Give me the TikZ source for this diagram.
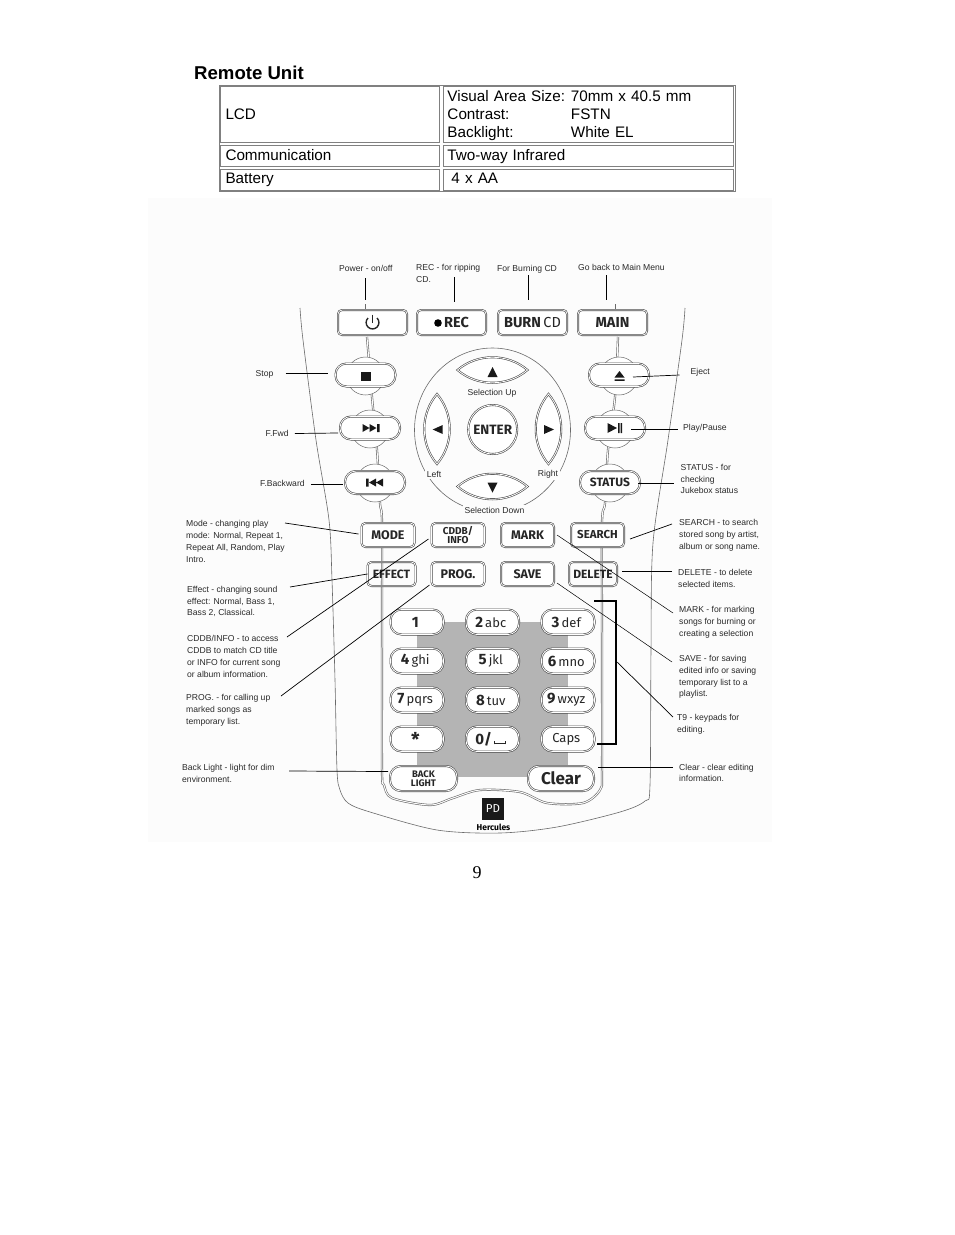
\documentclass[tikz,border=0pt]{standalone}
\usepackage{fontspec}
\setmainfont{Liberation Sans}
\newfontfamily\keyfont{Fira Sans}
\newfontfamily\pagefont{Liberation Serif}
\usetikzlibrary{matrix}
\definecolor{photobg}{HTML}{FCFCFC}
\definecolor{padgray}{HTML}{B4B4B4}
\definecolor{keyline}{HTML}{4A4A4A}
\definecolor{bodyline}{HTML}{6A6A6A}
\definecolor{tablegray}{HTML}{808080}
\definecolor{notegray}{HTML}{2A2A2A}
\def\Dg#1{{\fontsize{15}{15}\selectfont\bfseries #1}\,}
\def\LcdCell{\parbox{286pt}{\vspace*{4pt}\fontsize{15.25}{18}\selectfont
    \makebox[123.5pt][l]{Visual Area Size:}70mm x 40.5 mm\\
    \makebox[123.5pt][l]{Contrast:}FSTN\\
    \makebox[123.5pt][l]{Backlight:}White EL}}
\tikzset{
    basekey/.style={draw=keyline,line width=.6pt,double=white,double distance=.8pt,fill=white,inner sep=0pt,outer sep=0pt,align=center,text=black!85},
    topkey/.style={basekey,rounded corners=4pt,minimum width=69pt,minimum height=25pt,font={\keyfont\bfseries\fontsize{14.5}{14.5}\selectfont}},
    midkey/.style={basekey,rounded corners=4pt,minimum width=53pt,minimum height=24pt,font={\keyfont\bfseries\fontsize{12.5}{10}\selectfont}},
    sidekey/.style={basekey,rounded corners=11pt,minimum width=60pt,minimum height=23pt,font={\keyfont\bfseries\fontsize{12}{12}\selectfont}},
    pillkey/.style={basekey,rounded corners=11pt,minimum height=25pt,font={\keyfont\fontsize{13}{13}\selectfont}},
    bulge/.style={draw=bodyline,line width=.5pt,fill=white},
    bodyedge/.style={draw=bodyline,line width=.6pt},
    leader/.style={draw=black,line width=.7pt},
    note/.style={anchor=west,inner sep=0pt,align=left,text=notegray,font={\fontsize{8.6}{11.8}\selectfont}},
    lenskey/.pic={\draw[draw=keyline,line width=.6pt,double=white,double distance=.8pt,fill=white] (-35,0) .. controls (-15,-17) and (15,-17) .. (35,0) .. controls (15,17) and (-15,17) .. (-35,0) -- cycle;}
}
\def\SpecTable{
    \matrix (spec) at (477,138)
    [matrix of nodes,
    nodes in empty cells,
    ampersand replacement=\&,
    column sep={3pt},
    row sep={2pt},
    inner sep=0pt,
    nodes={draw=tablegray,line width=1pt,outer sep=0pt,anchor=center,align=left,inner sep=0pt,font={\fontsize{15.25}{18}\selectfont}} ]
    {
     |[minimum height=56pt,text width=219pt]| \hspace*{5pt}LCD \& |[minimum height=56pt,text width=290pt]| \hspace*{4pt}\LcdCell\\
     |[minimum height=21pt,text width=219pt,text height=12pt,text depth=2pt]| \hspace*{5pt}Communication \& |[minimum height=21pt,text width=290pt,text height=12pt,text depth=2pt]| \hspace*{4pt}Two-way Infrared \\
     |[minimum height=21pt,text width=219pt,text height=11pt,text depth=3pt]| \hspace*{5pt}Battery \& |[minimum height=21pt,text width=290pt,text height=11pt,text depth=3pt]| \hspace*{8pt}4 x AA \\
};
}
\def\KeyPad{
    \matrix (keypad) at (492.5,680.5)
    [matrix of nodes,
    nodes in empty cells,
    ampersand replacement=\&,
    column sep={20.5pt},
    row sep={12pt},
    inner sep=0pt,
    nodes={pillkey,anchor=center,minimum width=53pt} ]
    {
     \Dg{1}\! \& \Dg{2}abc \& \Dg{3}def \\
     \Dg{4}ghi \& \Dg{5}jkl \& \Dg{6}mno \\
     \Dg{7}pqrs \& \Dg{8}tuv \& \Dg{9}wxyz \\
     {\fontsize{19}{15}\selectfont\bfseries *} \& \Dg{0/}\rule{1pt}{3pt}\rule{10pt}{.8pt}\rule{1pt}{3pt} \& Caps \\
};
}
\begin{document}
\begin{tikzpicture}[x=1pt,y=-1pt]
    \useasboundingbox (0,0) rectangle (954,1235);
    \fill[photobg] (148,198) rectangle (772,842);
    \node[anchor=west,inner sep=0pt,font={\bfseries\fontsize{18.6}{18}\selectfont}] (title) at (194,72.5) {Remote Unit};
    \draw[tablegray,line width=1pt] (219,85) rectangle (735,191);
    \SpecTable

    \fill[padgray] (417,622) rectangle (568,777);
    \draw[bodyedge] plot[smooth] coordinates {(300,308) (303,340) (316,440) (329,520) (332,580) (335,680) (337,770) (340,790) (348,803) (370,812) (437,830) (500,833) (557,827) (620,812) (645,801) (650,785) (651,650) (653,543) (668,440) (682,340) (685,308)};
    \draw[bodyedge,double=photobg,double distance=1pt] plot[smooth] coordinates {(367,337) (372,397) (377,450) (380,503) (382,523) (382,640) (382,770) (384,785) (392,798) (430,805) (453,798) (480,790) (520,792) (547,803) (583,803) (600,790) (602,770) (602,640) (602,523) (605,503) (608,450) (615,397) (618,337)};
    \draw[bodyedge] (365,304) -- (365,310);
    \draw[bodyedge] (615,304) -- (615,310);

    \foreach \bx/\by/\bname in {365.5/376/stop,370/429/ffwd,375/483/fback,619/376/eject,615/429/play,610/483/status} {
        \node[bulge,circle,minimum size=38pt,inner sep=0pt] (\bname bulge) at (\bx,\by) {};
    }
    \node[topkey] (powerkey) at (372.5,322.5) {};
    \node[topkey] (reckey) at (451.5,322.5) {\hspace*{10pt}REC};
    \node[topkey] (burnkey) at (532.5,322.5) {BURN\,{\mdseries CD}};
    \node[topkey] (mainkey) at (612.5,322.5) {MAIN};
    \node[sidekey] (stopkey) at (365.5,375) {};
    \node[sidekey] (ffwdkey) at (370,428) {};
    \node[sidekey] (fbackkey) at (375,482.5) {};
    \node[sidekey] (ejectkey) at (619,375) {};
    \node[sidekey] (playkey) at (615,428) {};
    \node[sidekey] (statuskey) at (610,482.5) {STATUS};
    \node[midkey] (modekey) at (388,535) {MODE};
    \node[midkey,font={\keyfont\bfseries\fontsize{10}{8.5}\selectfont}] (cddbkey) at (458,535) {CDDB/\\INFO};
    \node[midkey] (markkey) at (527.5,535) {MARK};
    \node[midkey,font={\keyfont\bfseries\fontsize{11.5}{10}\selectfont}] (searchkey) at (597.5,535) {SEARCH};
    \node[midkey,fill=none,minimum width=48pt,font={\keyfont\bfseries\fontsize{12}{10}\selectfont}] (effectkey) at (391.5,574) {EFFECT};
    \node[midkey] (progkey) at (458,574) {PROG.};
    \node[midkey] (savekey) at (527.5,574) {SAVE};
    \node[midkey,fill=none,minimum width=48pt,font={\keyfont\bfseries\fontsize{12}{10}\selectfont}] (deletekey) at (593,574) {DELETE};
    \KeyPad
    \node[pillkey,minimum width=67pt,font={\keyfont\bfseries\fontsize{9.5}{8.5}\selectfont}] (backkey) at (423.5,778.5) {BACK\\LIGHT};
    \node[pillkey,minimum width=66pt,font={\keyfont\bfseries\fontsize{17}{17}\selectfont}] (clearkey) at (561,778.5) {Clear};

    \draw[black!85,line width=1.4pt] ([shift={(-4.5,-4.5)}]powerkey.center) arc[start angle=-135,end angle=-405,radius=6.4];
    \draw[black!85,line width=1.4pt] ([shift={(0,-8)}]powerkey.center) -- (powerkey.center);
    \fill[black] (438,323) circle[radius=3.8];
    \fill[black!90] (361,371.5) rectangle (370.5,381);
    \fill[black!90,shift={(ffwdkey.center)}] (-7.5,-4) -- (-0.5,0) -- (-7.5,4) -- cycle (-0.5,-4) -- (6.5,0) -- (-0.5,4) -- cycle (7,-4) rectangle (9.5,4);
    \fill[black!90,shift={(fbackkey.center)}] (-9,-4) rectangle (-6.5,4) (-6,0) -- (1,-4) -- (1,4) -- cycle (1,0) -- (8,-4) -- (8,4) -- cycle;
    \fill[black!90] (619.5,371) -- (624.5,377.5) -- (614.5,377.5) -- cycle (614.5,379.3) rectangle (624.5,380.8);
    \fill[black!90,shift={(playkey.center)}] (-7.5,-5) -- (2,0) -- (-7.5,5) -- cycle (3,-5) rectangle (4.5,5) (5.5,-5) rectangle (7,5);

    \draw[bodyedge] (492.5,430) ellipse[x radius=78,y radius=82];
    \path (492.5,370) pic {lenskey};
    \path (492.5,486.5) pic {lenskey};
    \path (437,429) pic[rotate=90] {lenskey};
    \path (548.5,429) pic[rotate=90] {lenskey};
    \fill[black!90] (492.5,367) -- (497.5,377) -- (487.5,377) -- cycle;
    \fill[black!90] (492.5,492.7) -- (497.5,482.7) -- (487.5,482.7) -- cycle;
    \fill[black!90] (432.7,429.5) -- (442.7,425) -- (442.7,434) -- cycle;
    \fill[black!90] (554,429.5) -- (544,425) -- (544,434) -- cycle;
    \node[basekey,circle,minimum size=49pt,font={\keyfont\bfseries\fontsize{13.5}{13.5}\selectfont}] (enterkey) at (492.7,429.5) {ENTER};
    \node[note,anchor=center,fill=photobg,inner xsep=2pt,inner ysep=2pt] (seldownnote) at (494.5,510) {Selection Down};
    \node[note,anchor=center] (selupnote) at (492,393) {Selection Up};
    \node[note,anchor=center,fill=photobg,inner sep=1.5pt] (leftnote) at (434,474) {Left};
    \node[note,anchor=center,fill=photobg,inner sep=1.5pt] (rightnote) at (548,474) {Right};

    \fill[black!90] (482,798) rectangle (504,820);
    \node[inner sep=0pt,text=white,font={\keyfont\fontsize{11.5}{11.5}\selectfont}] (pdlogo) at (493,809) {PD};
    \node[inner sep=0pt,font={\keyfont\bfseries\fontsize{8.5}{8.5}\selectfont}] (hercules) at (493.5,827) {Hercules};

    \node[note] (powernote) at (339,268) {Power - on/off};
    \node[note] (recnote) at (416,273.5) {REC - for ripping\\CD.};
    \node[note] (burnnote) at (497,269) {For Burning CD};
    \node[note] (mainnote) at (578,267) {Go back to Main Menu};
    \node[note] (stopnote) at (255.5,374) {Stop};
    \node[note] (ffwdnote) at (265.5,433.5) {F.Fwd};
    \node[note] (fbacknote) at (260,483) {F.Backward};
    \node[note] (ejectnote) at (690.5,372) {Eject};
    \node[note] (playnote) at (683,428) {Play/Pause};
    \node[note] (statusnote) at (680.5,479) {STATUS - for\\checking\\Jukebox status};
    \node[note] (modenote) at (186,541.5) {Mode - changing play\\mode: Normal, Repeat 1,\\Repeat All, Random, Play\\Intro.};
    \node[note] (effectnote) at (187,601.5) {Effect - changing sound\\effect: Normal, Bass 1,\\Bass 2, Classical.};
    \node[note] (cddbnote) at (187,656.5) {CDDB/INFO - to access\\CDDB to match CD title\\or INFO for current song\\or album information.};
    \node[note] (prognote) at (186,710) {PROG. - for calling up\\marked songs as\\temporary list.};
    \node[note] (backnote) at (182,773.5) {Back Light - light for dim\\environment.};
    \node[note] (searchnote) at (679,535) {SEARCH - to search\\stored song by artist,\\album or song name.};
    \node[note] (deletenote) at (678,578.5) {DELETE - to delete\\selected items.};
    \node[note] (marknote) at (679,622.5) {MARK - for marking\\songs for burning or\\creating a selection};
    \node[note] (savenote) at (679,677) {SAVE - for saving\\edited info or saving\\temporary list to a\\playlist.};
    \node[note] (tninenote) at (677,724) {T9 - keypads for\\editing.};
    \node[note] (clearnote) at (679,773) {Clear - clear editing\\information.};

    \coordinate (powerend) at (365,278);
    \coordinate (recend) at (454.5,277);
    \coordinate (burnend) at (528.5,275);
    \coordinate (mainend) at (606.5,275);
    \draw[leader] (powerend) -- ([yshift=10pt]powerend |- powerkey.north);
    \draw[leader] (recend) -- ([yshift=8pt]recend |- reckey.north);
    \draw[leader] (burnend) -- ([yshift=10pt]burnend |- burnkey.north);
    \draw[leader] (mainend) -- ([yshift=10pt]mainend |- mainkey.north);
    \draw[leader] ([xshift=12pt,yshift=1pt]stopnote.east) -- ([yshift=2pt,xshift=-8pt]stopkey.west);
    \draw[leader] ([xshift=6pt]ffwdnote.east) -- ([yshift=-5pt,xshift=-2pt]ffwdkey.west);
    \draw[leader] ([xshift=6pt,yshift=-1pt]fbacknote.east) -- ([yshift=-1.5pt,xshift=-2pt]fbackkey.west);
    \draw[leader] ([xshift=14pt,yshift=-2pt]ejectkey.center) -- ([xshift=-11pt,yshift=-3pt]ejectnote.west);
    \draw[leader] ([xshift=16pt,yshift=-1pt]playkey.center) -- ([xshift=-5pt,yshift=-1pt]playnote.west);
    \draw[leader] ([xshift=-2pt,yshift=-.5pt]statuskey.east) -- ([xshift=-7pt,yshift=-4pt]statusnote.west);
    \coordinate (modeend) at (285,523);
    \coordinate (effectend) at (290,587);
    \coordinate (cddbend) at (287,637);
    \coordinate (progend) at (281,696);
    \coordinate (backend) at (289,771);
    \coordinate (searchend) at (672,524);
    \coordinate (deleteend) at (672,571);
    \coordinate (markend) at (673,613);
    \coordinate (saveend) at (672,662);
    \coordinate (tnineend) at (673,717);
    \coordinate (clearend) at (673,767);
    \coordinate (markstart) at (557,535);
    \coordinate (savestart) at (557,583);
    \coordinate (tninestart) at (617,662);
    \coordinate (clearstart) at (598,767);
    \draw[leader] (modeend) -- ([xshift=-3pt,yshift=1pt]modekey.west);
    \draw[leader] (effectend) -- ([yshift=0pt]effectkey.west);
    \draw[leader] (cddbend) -- ([xshift=-3pt,yshift=-4pt]cddbkey.west);
    \draw[leader] (progend) -- ([xshift=-2pt,yshift=-11pt]progkey.west);
    \draw[leader] (backend) -- ([xshift=-2pt,yshift=7pt]backkey.west);
    \draw[leader] ([xshift=6pt,yshift=-4pt]searchkey.east) -- (searchend);
    \draw[leader] ([xshift=5pt,yshift=3pt]deletekey.east) -- (deleteend);
    \draw[leader,line width=.5pt] (markstart) -- (markend);
    \draw[leader,line width=.5pt] (savestart) -- (saveend);
    \draw[leader] (tninestart) -- (tnineend);
    \draw[leader,line width=.5pt] (clearstart) -- (clearend);
    \draw[black,line width=1.3pt] (594,601) -- (616,601) -- (616,744) -- (597,744);

    \node[inner sep=0pt,font={\pagefont\fontsize{18}{18}\selectfont}] (pagenum) at (477,873) {9};
\end{tikzpicture}
\end{document}
